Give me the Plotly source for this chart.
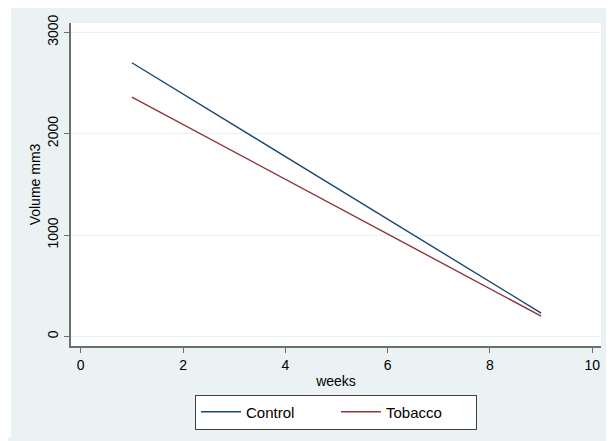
import plotly.graph_objects as go

weeks = [1, 9]
control = [2700, 230]
tobacco = [2360, 200]
x_ticks = [0, 2, 4, 6, 8, 10]
y_ticks = [0, 1000, 2000, 3000]

BG = "#eaf2f3"
AX = "#6e6e6e"
FONT = "Liberation Sans, Arial, sans-serif"

fig = go.Figure()
fig.add_trace(go.Scatter(x=weeks, y=control, mode="lines", name="Control",
                         line=dict(color="#1a476f", width=1.4)))
fig.add_trace(go.Scatter(x=weeks, y=tobacco, mode="lines", name="Tobacco",
                         line=dict(color="#90353b", width=1.4)))

# the page body has an 8px margin, so the figure starts at (8, 8) in the window
OFF = 8
W, H = 614 - OFF, 441 - OFF
L, R, T, B = 63, 13, 15, 92
pw, ph = W - L - R, H - T - B

def px_x(p):
    return (p - OFF - L) / pw

def px_y(p):
    return (H - B - (p - OFF)) / ph

fig.add_shape(type="rect", xref="paper", yref="paper",
              x0=px_x(8), x1=px_x(11), y0=px_y(441), y1=px_y(8),
              fillcolor="white", line=dict(width=0), layer="above")

fig.update_layout(
    width=W, height=H,
    margin=dict(l=L, r=R, t=T, b=B),
    paper_bgcolor=BG, plot_bgcolor="white",
    font=dict(family=FONT, size=14, color="black"),
    showlegend=True,
    legend=dict(orientation="h", x=0.5, xanchor="center", y=px_y(398), yanchor="top",
                bordercolor="#404040", borderwidth=1, bgcolor="white",
                font=dict(size=15), itemwidth=40, traceorder="normal",
                entrywidth=85, entrywidthmode="pixels"),
    xaxis=dict(range=[-0.19, 10.17], tickvals=x_ticks, ticktext=[str(v) for v in x_ticks],
               showgrid=False, zeroline=False, showline=True, linecolor=AX, linewidth=2,
               ticks="outside", ticklen=5, tickcolor=AX, tickwidth=1, automargin=False,
               title=dict(text="weeks", standoff=4, font=dict(size=14))),
    yaxis=dict(range=[-95, 3092], tickvals=y_ticks, ticktext=[str(v) for v in y_ticks],
               showgrid=True, gridcolor=BG, gridwidth=1, zeroline=False,
               showline=True, linecolor=AX, linewidth=2,
               ticks="outside", ticklen=5, tickcolor=AX, tickwidth=1, tickangle=-90,
               automargin=False,
               title=dict(text="Volume mm3", standoff=2, font=dict(size=14))),
)

fig.write_html("out.html")
